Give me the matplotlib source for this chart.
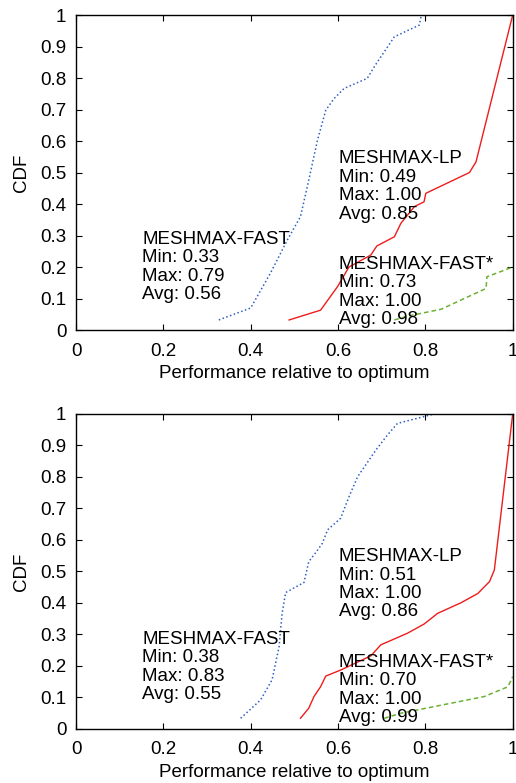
import matplotlib
matplotlib.use("Agg")
import matplotlib.pyplot as plt
from matplotlib.ticker import FuncFormatter

plt.rcParams["font.family"] = ["Liberation Sans", "DejaVu Sans"]
plt.rcParams["font.size"] = 13.5

BLUE = "#2f5fc4"
RED = "#ee1c1c"
GREEN = "#6cb033"

# --- top panel ---
fast1_x = [0.327, 0.40, 0.445, 0.484, 0.514, 0.533, 0.553, 0.572, 0.591, 0.614, 0.667, 0.683, 0.729, 0.786, 0.791]
fast1_y = [0.032, 0.07, 0.18, 0.286, 0.36, 0.476, 0.603, 0.698, 0.735, 0.767, 0.799, 0.836, 0.931, 0.968, 1.0]
lp1_x = [0.488, 0.56, 0.599, 0.625, 0.675, 0.689, 0.729, 0.744, 0.775, 0.797, 0.801, 0.901, 0.916, 1.0]
lp1_y = [0.032, 0.063, 0.138, 0.2, 0.238, 0.267, 0.296, 0.339, 0.392, 0.407, 0.434, 0.5, 0.534, 1.0]
fstar1_x = [0.729, 0.759, 0.836, 0.939, 0.941, 1.0]
fstar1_y = [0.032, 0.044, 0.066, 0.132, 0.169, 0.2]
stats1 = {"fast": (0.33, 0.79, 0.56), "lp": (0.49, 1.00, 0.85), "fstar": (0.73, 1.00, 0.98)}

# --- bottom panel ---
fast2_x = [0.377, 0.4225, 0.449, 0.465, 0.472, 0.48, 0.522, 0.533, 0.549, 0.564, 0.576, 0.606, 0.625,
           0.645, 0.687, 0.713, 0.736, 0.82]
fast2_y = [0.034, 0.092, 0.156, 0.261, 0.367, 0.433, 0.465, 0.531, 0.56, 0.589, 0.632, 0.669, 0.737,
           0.801, 0.886, 0.933, 0.97, 1.0]
lp2_x = [0.514, 0.533, 0.545, 0.56, 0.572, 0.606, 0.675, 0.698, 0.759, 0.797, 0.828, 0.882, 0.92, 0.947, 0.958, 1.0]
lp2_y = [0.034, 0.066, 0.103, 0.134, 0.168, 0.187, 0.232, 0.267, 0.304, 0.333, 0.367, 0.401, 0.43, 0.468, 0.505, 1.0]
fstar2_x = [0.706, 0.744, 0.82, 0.935, 0.989, 1.0]
fstar2_y = [0.034, 0.05, 0.071, 0.103, 0.134, 0.166]
stats2 = {"fast": (0.38, 0.83, 0.55), "lp": (0.51, 1.00, 0.86), "fstar": (0.70, 1.00, 0.99)}

x_ticks = [0, 0.2, 0.4, 0.6, 0.8, 1]
y_ticks = [0, 0.1, 0.2, 0.3, 0.4, 0.5, 0.6, 0.7, 0.8, 0.9, 1]


def label(name, st):
    return f"{name}\nMin: {st[0]:.2f}\nMax: {st[1]:.2f}\nAvg: {st[2]:.2f}"


def draw_panel(ax, fast, lp, fstar, stats, text_y):
    ax.plot(fast[0], fast[1], color=BLUE, lw=1.1, ls=(0, (1, 1.6)))
    ax.plot(lp[0], lp[1], color=RED, lw=1.0, ls="-")
    ax.plot(fstar[0], fstar[1], color=GREEN, lw=1.1, ls=(0, (3, 2)))

    ax.set_xlim(0, 1)
    ax.set_ylim(0, 1)
    ax.set_xticks(x_ticks)
    ax.set_yticks(y_ticks)
    ax.xaxis.set_major_formatter(FuncFormatter(lambda v, p: f"{v:g}"))
    ax.yaxis.set_major_formatter(FuncFormatter(lambda v, p: f"{v:g}"))
    ax.tick_params(direction="in", length=4, width=0.8, top=True, right=True)
    ax.tick_params(axis="x", pad=9)
    ax.tick_params(axis="y", pad=7)
    for sp in ax.spines.values():
        sp.set_linewidth(1.0)
    ax.set_xlabel("Performance relative to optimum", labelpad=4)
    ax.set_ylabel("CDF", labelpad=7)

    kw = dict(va="top", ha="left", linespacing=1.11)
    ax.text(0.152, text_y[0], label("MESHMAX-FAST", stats["fast"]), **kw)
    ax.text(0.602, text_y[1], label("MESHMAX-LP", stats["lp"]), **kw)
    ax.text(0.602, text_y[2], label("MESHMAX-FAST*", stats["fstar"]), **kw)


fig = plt.figure(figsize=(5.16, 7.83), dpi=100)
ax1 = fig.add_axes([0.1473, 0.5785, 0.8463, 0.4023])
ax2 = fig.add_axes([0.1473, 0.0690, 0.8463, 0.4023])

draw_panel(ax1, (fast1_x, fast1_y), (lp1_x, lp1_y), (fstar1_x, fstar1_y), stats1, (0.315, 0.57, 0.235))
draw_panel(ax2, (fast2_x, fast2_y), (lp2_x, lp2_y), (fstar2_x, fstar2_y), stats2, (0.312, 0.574, 0.238))

fig.savefig("out.png", dpi=100)
